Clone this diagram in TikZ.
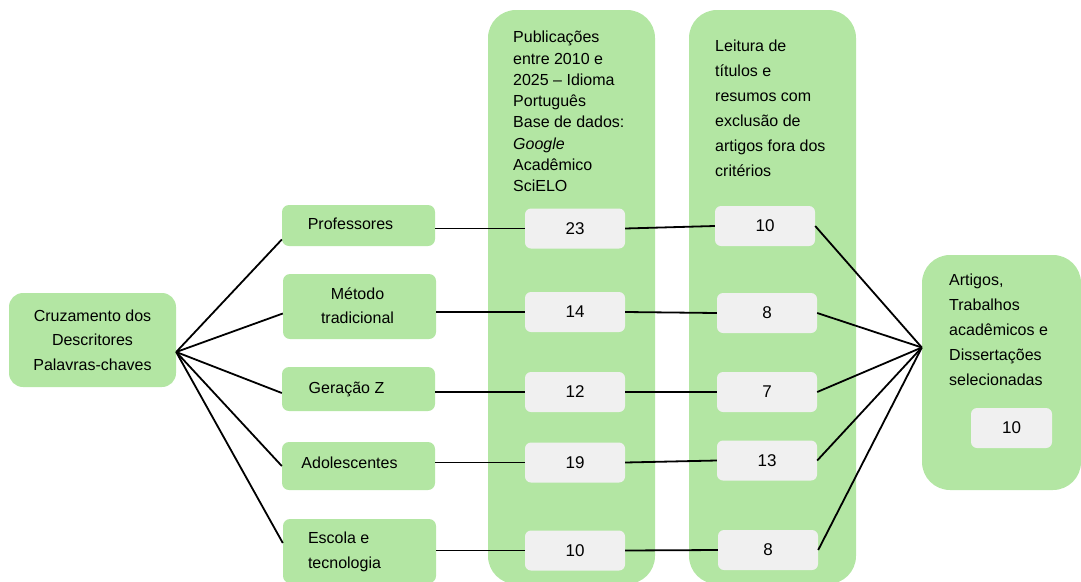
\documentclass[tikz,border=0pt]{standalone}
\usepackage{fontspec}
\setmainfont{Liberation Sans}
\definecolor{gfill}{HTML}{B3E6A3}
\definecolor{nfill}{HTML}{F0F0F0}
\begin{document}
\begin{tikzpicture}[x=1pt,y=-1pt,
  gbox/.style={fill=gfill, draw=none, rounded corners=7pt, inner sep=0pt, align=center,
    font=\fontsize{16}{24.5}\selectfont},
  nbox/.style={fill=nfill, draw=none, rounded corners=6pt, minimum width=100pt, minimum height=40pt,
    inner sep=0pt, font=\fontsize{17}{20}\selectfont},
  colbox/.style={fill=gfill, draw=none, rounded corners=28pt, inner sep=0pt},
  hdr/.style={inner sep=0pt, align=left, anchor=north west},
  link/.style={line width=1.8pt, black}]
\useasboundingbox (0,0) rectangle (1081,581);

% columns
\node[colbox, minimum width=167pt, minimum height=574pt] (c1) at (571.5,297) {};
\node[colbox, minimum width=167pt, minimum height=574pt] (c2) at (772.5,297) {};
\node[colbox, minimum width=159pt, minimum height=235pt] (right) at (1001.5,372.5) {};

\node[hdr, font=\fontsize{16}{21.3}\selectfont] (h1) at (513,31)
  {Publicações\\entre 2010 e\\2025 -- Idioma\\Português\\Base de dados:\\\textit{Google}\\Acadêmico\\SciELO};
\node[hdr, font=\fontsize{16}{25}\selectfont] (h2) at (715,40)
  {Leitura de\\títulos e\\resumos com\\exclusão de\\artigos fora dos\\critérios};
\node[hdr, font=\fontsize{16}{25}\selectfont] (h3) at (949,274)
  {Artigos,\\Trabalhos\\acadêmicos e\\Dissertações\\selecionadas};

% left node
\node[gbox, rounded corners=14pt, minimum width=167pt, minimum height=94pt] (left) at (92.5,340)
  {Cruzamento dos\\Descritores\\Palavras-chaves};

% middle boxes
\node[gbox, minimum width=153pt, minimum height=41pt] (prof) at (358.5,225.5) {\hspace*{-16pt}\raisebox{3pt}{Professores}};
\node[gbox, minimum width=153pt, minimum height=65pt] (met) at (359.5,306.5) {\hspace*{-4pt}\raisebox{1pt}{\begin{tabular}{@{}c@{}}Método\\tradicional\end{tabular}}};
\node[gbox, minimum width=153pt, minimum height=44pt] (ger) at (358.5,389) {\hspace*{-24pt}\raisebox{2pt}{Geração Z}};
\node[gbox, minimum width=153pt, minimum height=48pt] (ado) at (358.5,466) {\hspace*{-18pt}\raisebox{6pt}{Adolescentes}};
\node[gbox, minimum width=153pt, minimum height=64pt] (esc) at (359.5,551) {\hspace*{-30pt}\begin{tabular}{@{}l@{}}Escola e\\[1pt]tecnologia\end{tabular}};

% number boxes column 1
\node[nbox] (a1) at (575,228.5) {23};
\node[nbox] (a2) at (575,312) {14};
\node[nbox] (a3) at (575,392) {12};
\node[nbox] (a4) at (575,462.5) {19};
\node[nbox] (a5) at (575,550.5) {10};
% number boxes column 2
\node[nbox] (b1) at (765,226) {10};
\node[nbox] (b2) at (767,313) {8};
\node[nbox] (b3) at (767,392) {7};
\node[nbox] (b4) at (767,460.5) {13};
\node[nbox] (b5) at (768,550) {8};
% result
\node[nbox, minimum width=81pt] (res) at (1011.5,428) {10};

% left fan
\draw[link] ([yshift=-12pt]left.east) -- ([yshift=-14pt]prof.west);
\draw[link] ([yshift=-12pt]left.east) -- ([yshift=-7pt]met.west);
\draw[link] ([yshift=-12pt]left.east) -- ([yshift=-4pt]ger.west);
\draw[link] ([yshift=-12pt]left.east) -- (ado.west);
\draw[link] ([yshift=-12pt]left.east) -- ([yshift=8pt]esc.west);

% horizontal links
\draw[link] (prof.east |- a1.west) -- (a1.west);
\draw[link] (met.east |- a2.west) -- (a2.west);
\draw[link] (ger.east |- a3.west) -- (a3.west);
\draw[link] (ado.east |- a4.west) -- (a4.west);
\draw[link] (esc.east |- a5.west) -- (a5.west);
\draw[link] (a1.east) -- (b1.west);
\draw[link] (a2.east) -- (b2.west);
\draw[link] (a3.east) -- (b3.west);
\draw[link] (a4.east) -- (b4.west);
\draw[link] (a5.east) -- (b5.west);

% right fan
\draw[link] (b1.east) -- ([yshift=25pt]right.west);
\draw[link] (b2.east) -- ([yshift=25pt]right.west);
\draw[link] (b3.east) -- ([yshift=25pt]right.west);
\draw[link] (b4.east) -- ([yshift=25pt]right.west);
\draw[link] (b5.east) -- ([yshift=25pt]right.west);
\end{tikzpicture}
\end{document}
